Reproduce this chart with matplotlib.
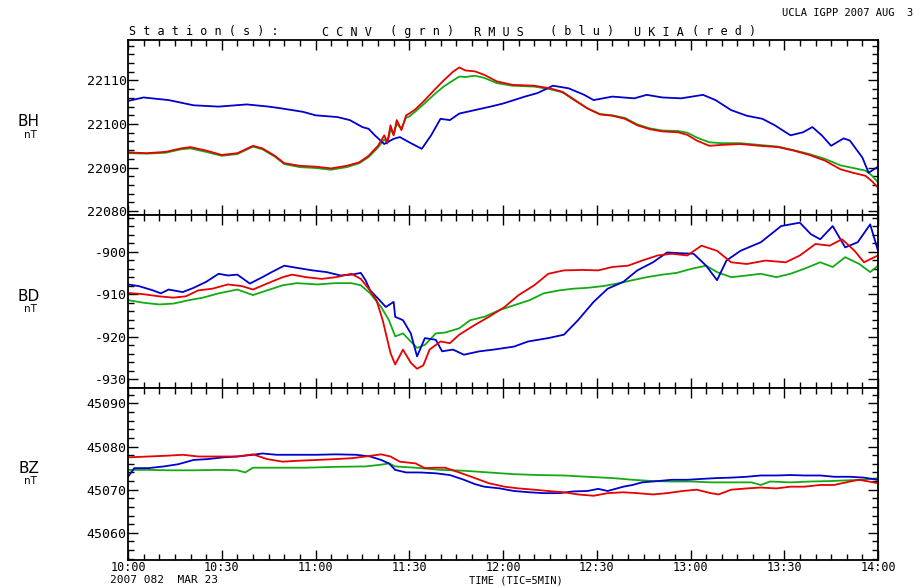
import matplotlib
matplotlib.use("Agg")
import matplotlib.pyplot as plt
from matplotlib.ticker import MultipleLocator

plt.rcParams['axes.unicode_minus'] = False
MONO = "DejaVu Sans Mono"

# station colours
GRN = "#14aa14"
BLU = "#0000cd"
RED = "#e60000"

# time axis, minutes after 10:00 UT
time_ticks = [0, 30, 60, 90, 120, 150, 180, 210, 240]
time_labels = ["10:00", "10:30", "11:00", "11:30", "12:00", "12:30", "13:00", "13:30", "14:00"]

# ---- BH (nT) ----
t_bh = [0, 6, 12, 17, 20, 25, 30, 35, 40, 43, 47, 50, 55, 60, 65, 70, 74, 77, 80, 82,
        83, 84, 85, 86, 87.5, 89, 90, 92, 95, 98, 101, 104, 106, 108, 111, 114, 118, 123, 130, 135,
        139, 143, 147, 151, 155, 159, 163, 167, 171, 176, 179, 182, 186, 190, 196, 202, 208, 213, 218, 223,
        228, 232, 236, 238, 240]
bh_ukia = [22093.5, 22093.3, 22093.6, 22094.4, 22094.7, 22093.9, 22092.9, 22093.3, 22095.0, 22094.4,
           22092.7, 22091.0, 22090.4, 22090.2, 22089.8, 22090.4, 22091.2, 22092.7, 22095.0, 22097.4,
           22095.8, 22099.7, 22097.4, 22100.9, 22098.6, 22102.0, 22102.4, 22103.4, 22105.5, 22107.8,
           22110.0, 22112.0, 22113.0, 22112.3, 22112.1, 22111.3, 22109.8, 22109.0, 22108.8, 22108.2,
           22107.4, 22105.5, 22103.6, 22102.2, 22101.9, 22101.2, 22099.7, 22098.8, 22098.3, 22098.1,
           22097.5, 22096.2, 22095.0, 22095.2, 22095.4, 22095.0, 22094.7, 22093.9, 22092.9, 22091.6,
           22089.6, 22088.8, 22088.1, 22086.9, 22085.4]
bh_ccnv = [22093.3, 22093.2, 22093.4, 22094.2, 22094.4, 22093.6, 22092.7, 22093.1, 22094.8, 22094.2,
           22092.5, 22090.8, 22090.1, 22089.9, 22089.5, 22090.1, 22091.0, 22092.4, 22094.6, 22096.5,
           22095.5, 22098.8, 22097.6, 22100.0, 22099.0, 22101.5, 22101.7, 22102.9, 22104.8, 22106.8,
           22108.6, 22110.0, 22110.9, 22110.8, 22111.1, 22110.6, 22109.4, 22108.8, 22108.6, 22108.0,
           22107.3, 22105.4, 22103.6, 22102.3, 22102.0, 22101.4, 22099.9, 22099.0, 22098.5, 22098.4,
           22098.0, 22096.9, 22095.8, 22095.6, 22095.6, 22095.2, 22094.8, 22094.0, 22093.1, 22092.0,
           22090.5, 22089.9, 22089.3, 22088.2, 22086.6]
t_bh_rmus = [0, 5, 13, 21, 29, 38, 45, 49, 56, 60, 67, 71, 75, 77, 79, 82, 85, 87, 90, 94,
             97, 100, 103, 106, 111, 116, 120, 127, 131, 136, 141, 146, 149, 155, 162, 166, 171, 177, 184, 188,
             193, 198, 203, 207, 212, 216, 219, 222, 225, 229, 231, 235, 237, 240]
bh_rmus = [22105.3, 22106.1, 22105.5, 22104.3, 22104.0, 22104.5, 22104.0, 22103.6, 22102.8, 22102.0,
           22101.6, 22100.9, 22099.3, 22098.9, 22097.4, 22095.4, 22096.6, 22097.0, 22095.8, 22094.3,
           22097.4, 22101.2, 22100.9, 22102.4, 22103.2, 22104.0, 22104.7, 22106.3, 22107.1, 22108.8,
           22108.2, 22106.7, 22105.5, 22106.3, 22105.9, 22106.7, 22106.1, 22105.9, 22106.7, 22105.5,
           22103.2, 22101.9, 22101.2, 22099.7, 22097.4, 22098.1, 22099.3, 22097.4, 22095.0, 22096.7,
           22096.2, 22092.3, 22088.8, 22090.2]

# ---- BD (nT) ----
t_bd_rmus = [0, 3.5, 8, 10.5, 13, 17.5, 21, 25, 29, 32, 35, 39, 43, 46, 50, 54, 59, 63.5, 68, 71.5,
             74.5, 76, 77.5, 80, 82.5, 85, 85.5, 88, 90.5, 92.5, 95, 98.5, 100.5, 104, 107.5, 112.5, 117,
             123.5, 128, 134.5, 139.5, 144, 149, 153.5, 158.5, 163, 168, 172.5, 177.5, 181, 185, 188.5,
             191.5, 196, 202.5, 209, 215, 218.5, 221.5, 225.5, 229.5, 233.5, 237.5, 240]
bd_rmus = [-907.7, -908.1, -909.1, -909.8, -908.9, -909.5, -908.5, -907.1, -905.2, -905.6,
           -905.4, -907.5, -906.0, -904.8, -903.3, -903.8, -904.4, -904.8, -905.6, -905.4,
           -905.0, -906.7, -909.1, -911.0, -913.0, -911.8, -915.3, -916.1, -919.2, -924.6,
           -920.3, -920.7, -923.4, -923.0, -924.2, -923.4, -923.0, -922.3, -921.1, -920.3,
           -919.5, -916.1, -911.8, -908.7, -907.1, -904.4, -902.5, -900.2, -900.4, -900.5,
           -903.3, -906.7, -902.1, -899.8, -897.8, -894.0, -893.2, -895.9, -897.1, -894.0,
           -899.0, -897.8, -893.6, -899.8]
t_bd_ukia = [0, 5, 10, 14.5, 18.5, 22.5, 27, 32, 36.5, 40, 44.5, 49.5, 52.5, 57, 62, 66.5, 71.5, 74.5,
             77, 79.5, 81.5, 84, 85.5, 88, 90.5, 92.5, 94.5, 96.5, 100, 103, 106, 111, 115.5, 120.5, 125,
             130, 134.5, 139.5, 145.5, 150.5, 155, 160, 164.5, 169.5, 174, 179, 183.5, 188.5, 193, 198,
             204, 210.5, 215, 220, 224.5, 228.5, 232.5, 235.5, 240]
bd_ukia = [-909.7, -910.0, -910.5, -910.8, -910.5, -909.1, -908.7, -907.7, -908.1, -908.9,
           -907.5, -906.0, -905.4, -906.0, -906.4, -906.0, -905.2, -906.4, -908.7, -911.4,
           -916.1, -923.8, -926.5, -923.0, -926.1, -927.5, -926.7, -923.0, -921.1, -921.5,
           -919.5, -917.2, -915.3, -913.0, -910.2, -907.9, -905.2, -904.4, -904.3, -904.4,
           -903.6, -903.3, -902.1, -900.9, -900.5, -900.9, -898.6, -899.8, -902.5, -902.9,
           -902.1, -902.5, -900.9, -898.2, -898.6, -897.1, -899.8, -902.5, -900.9]
t_bd_ccnv = [0, 5, 10, 14.5, 19.5, 24, 29, 35, 40, 44.5, 49.5, 54, 60.5, 66.5, 71.5, 74.5, 77.5, 81,
             83.5, 85.5, 88, 90.5, 92.5, 95, 98.5, 101.5, 106, 109.5, 114, 119, 123.5, 128.5, 133, 138,
             142.5, 147, 152, 156.5, 161.5, 166, 171, 175.5, 180.5, 185, 188.5, 193, 198, 202.5, 207.5,
             212, 216.5, 221.5, 225.5, 229.5, 234, 237.5, 240]
bd_ccnv = [-911.4, -912.0, -912.4, -912.2, -911.4, -910.8, -909.8, -908.9, -910.2, -909.1,
           -907.9, -907.4, -907.7, -907.4, -907.4, -907.9, -909.8, -913.0, -916.1, -919.9,
           -919.2, -921.1, -922.6, -921.9, -919.2, -919.0, -918.0, -916.1, -915.3, -913.7,
           -912.6, -911.4, -909.8, -909.1, -908.7, -908.5, -908.1, -907.5, -906.7, -906.0,
           -905.4, -905.0, -904.0, -903.3, -904.8, -906.0, -905.6, -905.2, -906.0, -905.2,
           -904.0, -902.5, -903.6, -901.3, -902.9, -904.8, -903.3]

# ---- BZ (nT) ----
t_bz_ukia = [0, 6.5, 13, 17.5, 22.5, 29, 35, 40, 44.5, 49.5, 54, 60.5, 66.5, 71.5, 76, 81, 84, 87, 92, 95,
             98.5, 101.5, 106, 111, 115.5, 120.5, 125, 130, 134.5, 139.5, 144, 149, 153.5, 158.5, 163, 168,
             172.5, 177.5, 182, 186.5, 189, 193, 198, 202.5, 207.5, 212, 216.5, 221.5, 226, 231, 234, 240]
bz_ukia = [45077.5, 45077.7, 45077.9, 45078.1, 45077.7, 45077.7, 45077.7, 45078.2, 45077.1, 45076.5,
           45076.7, 45076.9, 45077.1, 45077.3, 45077.7, 45078.2, 45077.7, 45076.5, 45076.1, 45075.0,
           45075.1, 45075.1, 45074.0, 45072.7, 45071.5, 45070.7, 45070.3, 45070.0, 45069.7, 45069.4,
           45068.9, 45068.6, 45069.2, 45069.4, 45069.2, 45068.9, 45069.2, 45069.7, 45070.0, 45069.2,
           45068.9, 45070.0, 45070.3, 45070.5, 45070.3, 45070.7, 45070.7, 45071.1, 45071.1, 45071.9,
           45072.3, 45071.5]
t_bz_rmus = [0, 2, 6.5, 11.5, 16, 21, 25.5, 30.5, 35, 40, 43, 47.5, 54, 60.5, 66.5, 73, 77.5, 81, 83.5, 85.5,
             89, 93.5, 98.5, 103, 107.5, 111, 114, 119, 123.5, 128.5, 133, 138, 142.5, 147, 150.5, 153.5,
             158.5, 161.5, 164.5, 169.5, 174, 179, 183.5, 188.5, 193, 198, 202.5, 207.5, 212, 216.5,
             221.5, 226, 231, 235.5, 240]
bz_rmus = [45073.0, 45075.0, 45075.0, 45075.4, 45075.9, 45076.9, 45077.1, 45077.5, 45077.7, 45078.1,
           45078.4, 45078.1, 45078.1, 45078.1, 45078.2, 45078.1, 45077.7, 45076.9, 45076.1, 45074.6,
           45074.0, 45074.0, 45073.8, 45073.4, 45072.3, 45071.3, 45070.7, 45070.3, 45069.7, 45069.4,
           45069.2, 45069.2, 45069.6, 45069.7, 45070.2, 45069.7, 45070.7, 45071.1, 45071.7, 45072.0,
           45072.3, 45072.3, 45072.5, 45072.7, 45072.8, 45073.0, 45073.3, 45073.3, 45073.4, 45073.3,
           45073.3, 45073.0, 45073.0, 45072.8, 45072.3]
t_bz_ccnv = [0, 6.5, 13, 21, 29, 35, 37.5, 40, 47.5, 57, 66.5, 76, 81, 83.5, 85.5, 92, 100, 107.5, 115.5,
             123.5, 131.5, 139.5, 147, 155, 161.5, 168, 174, 180.5, 186.5, 193, 199.5, 202.5, 205.5, 212,
             218.5, 224.5, 231, 235.5, 240]
bz_ccnv = [45074.6, 45074.6, 45074.5, 45074.5, 45074.6, 45074.5, 45074.0, 45075.1, 45075.1, 45075.1,
           45075.3, 45075.4, 45075.8, 45076.1, 45075.4, 45075.1, 45074.6, 45074.4, 45074.0, 45073.6,
           45073.4, 45073.3, 45073.0, 45072.7, 45072.3, 45072.0, 45071.9, 45071.9, 45071.7, 45071.7,
           45071.7, 45071.1, 45071.9, 45071.7, 45071.9, 45072.0, 45072.2, 45072.3, 45072.7]

bh_ticks = [22080, 22090, 22100, 22110]
bd_ticks = [-930, -920, -910, -900]
bz_ticks = [45060, 45070, 45080, 45090]


# One panel of the stack: three station curves plus the IGPP style ticks
def draw_panel(fig, top, bottom, curves, ylim, yticks, name, name_y, show_time):
    ax = fig.add_axes([128 / 916, 1 - bottom / 587, 750 / 916, (bottom - top) / 587])
    for t, v, c in curves:
        ax.plot(t, v, color=c, lw=1.3)
    ax.set_xlim(0, 240)
    ax.set_ylim(*ylim)
    ax.set_yticks(yticks)
    ax.set_yticklabels([str(v) for v in yticks], family=MONO, fontsize=9.5)
    ax.yaxis.set_minor_locator(MultipleLocator(2))
    ax.set_xticks(time_ticks)
    ax.xaxis.set_minor_locator(MultipleLocator(5))
    if show_time:
        ax.set_xticklabels(time_labels, family=MONO, fontsize=8.5)
    else:
        ax.set_xticklabels([])
    ax.tick_params(which="both", direction="in", top=True, right=True, width=1, color="black")
    ax.tick_params(which="major", length=7, pad=1)
    ax.tick_params(which="minor", length=4)
    for s in ax.spines.values():
        s.set_linewidth(1.3)
    # component name and unit on the left
    fig.text(29 / 916, 1 - name_y / 587, name, ha="center", va="center", fontsize=11)
    fig.text(30 / 916, 1 - (name_y + 13) / 587, "nT", ha="center", va="center", fontsize=7.5)
    return ax


fig = plt.figure(figsize=(9.16, 5.87), dpi=100)

# panel edges in pixels from the top of the picture
draw_panel(fig, 40, 215,
           [(t_bh, bh_ccnv, GRN), (t_bh_rmus, bh_rmus, BLU), (t_bh, bh_ukia, RED)],
           (22079.1, 22119.3), bh_ticks, "BH", 121.5, False)
draw_panel(fig, 215, 387.5,
           [(t_bd_ccnv, bd_ccnv, GRN), (t_bd_rmus, bd_rmus, BLU), (t_bd_ukia, bd_ukia, RED)],
           (-931.9, -891.4), bd_ticks, "BD", 296.5, False)
draw_panel(fig, 387.5, 560,
           [(t_bz_ccnv, bz_ccnv, GRN), (t_bz_rmus, bz_rmus, BLU), (t_bz_ukia, bz_ukia, RED)],
           (45053.7, 45093.7), bz_ticks, "BZ", 468.5, True)

# header lines
fig.text(913 / 916, 1 - 13 / 587, "UCLA IGPP 2007 AUG  3", ha="right", va="center",
         family=MONO, fontsize=7.5)
words = [("Station(s):", 129), ("CCNV", 322), ("(grn)", 390), ("RMUS", 474),
         ("(blu)", 550), ("UKIA", 634), ("(red)", 692)]
for w, x in words:
    fig.text(x / 916, 1 - 32 / 587, " ".join(w), ha="left", va="center", family=MONO, fontsize=8.5)

# footer
fig.text(110 / 916, 1 - 580 / 587, "2007 082  MAR 23", ha="left", va="center", family=MONO, fontsize=8)
fig.text(516 / 916, 1 - 580.5 / 587, "TIME (TIC=5MIN)", ha="center", va="center", family=MONO, fontsize=7.5)

fig.savefig("out.png", dpi=100)
